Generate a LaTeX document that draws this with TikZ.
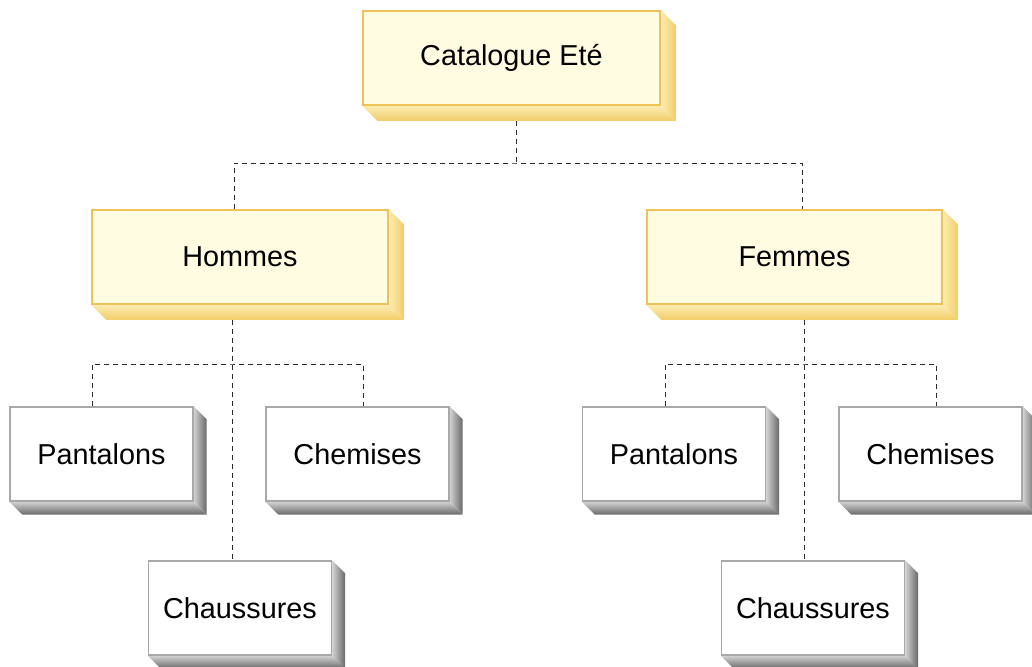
\documentclass[tikz,border=0pt]{standalone}
\usepackage{fontspec}
\setmainfont{Liberation Sans}
\usetikzlibrary{backgrounds}

\definecolor{goldline}{HTML}{EFC257}
\definecolor{goldface}{HTML}{FFFCE2}
\definecolor{goldlight}{HTML}{FCEBB2}
\definecolor{golddark}{HTML}{F1CD68}
\definecolor{greyline}{HTML}{A8A8A8}
\definecolor{greylight}{HTML}{D2D2D2}
\definecolor{greydark}{HTML}{686868}
\definecolor{linkgrey}{HTML}{2A2A2A}

% extruded side of a box: node, depth, light, dark
\newcommand{\slab}[4]{%
  \begin{pgfonlayer}{background}
    \shade[left color=#3, right color=#4] (#1.north east) -- ++(#2,#2)
      -- ([shift={(#2,#2)}]#1.south east) -- (#1.south east) -- cycle;
    \shade[top color=#3, bottom color=#4] (#1.south west) -- (#1.south east)
      -- ([shift={(#2,#2)}]#1.south east) -- ([shift={(#2,#2)}]#1.south west) -- cycle;
  \end{pgfonlayer}}

\tikzset{
  goldbox/.style={draw=goldline, fill=goldface, line width=1.6pt, inner sep=0pt,
    minimum height=94, font=\fontsize{28.8}{32}\selectfont},
  greybox/.style={draw=greyline, fill=white, line width=1.4pt, inner sep=0pt,
    minimum width=183, minimum height=94, font=\fontsize{28.8}{32}\selectfont},
  link/.style={draw=linkgrey, line width=1pt, dash pattern=on 5pt off 4pt}
}

\begin{document}
\begin{tikzpicture}[x=1pt, y=-1pt]

  \useasboundingbox (0,0) rectangle (1032,666);

  % Top level
  \node[goldbox, minimum width=297] (cat) at (511.5,58) {Catalogue Eté};

  % Second level
  \node[goldbox, minimum width=296] (hommes) at (240,257) {Hommes};
  \node[goldbox, minimum width=295] (femmes) at (794.5,257) {Femmes};

  % Leaves
  \node[greybox] (pantH) at (101.5,454) {Pantalons};
  \node[greybox] (chemH) at (357.5,454) {Chemises};
  \node[greybox] (chausH) at (240,608) {Chaussures};
  \node[greybox] (pantF) at (674,454) {Pantalons};
  \node[greybox] (chemF) at (930.5,454) {Chemises};
  \node[greybox] (chausF) at (813,608) {Chaussures};

  % Box depth
  \slab{cat}{15}{goldlight}{golddark}
  \slab{hommes}{15}{goldlight}{golddark}
  \slab{femmes}{15}{goldlight}{golddark}
  \foreach \n in {pantH,chemH,chausH,pantF,chemF,chausF}
    {\slab{\n}{13}{greylight}{greydark}}

  % Junctions
  \coordinate (j0) at (516,163);
  \coordinate (jH) at (232,364);
  \coordinate (jF) at (804,364);

  % Connectors
  \draw[link] ([xshift=4.5]cat.south) ++(0,15) -- (j0);
  \draw[link] ([xshift=-6]hommes.north) |- (j0) -| ([xshift=7.5]femmes.north);

  \draw[link] ([xshift=-8]hommes.south) ++(0,15) -- ([xshift=-8]chausH.north);
  \draw[link] ([xshift=-9.5]pantH.north) |- (jH) -| ([xshift=5.5]chemH.north);

  \draw[link] ([xshift=9.5]femmes.south) ++(0,15) -- ([xshift=-9]chausF.north);
  \draw[link] ([xshift=-9]pantF.north) |- (jF) -| ([xshift=5.5]chemF.north);

\end{tikzpicture}
\end{document}
